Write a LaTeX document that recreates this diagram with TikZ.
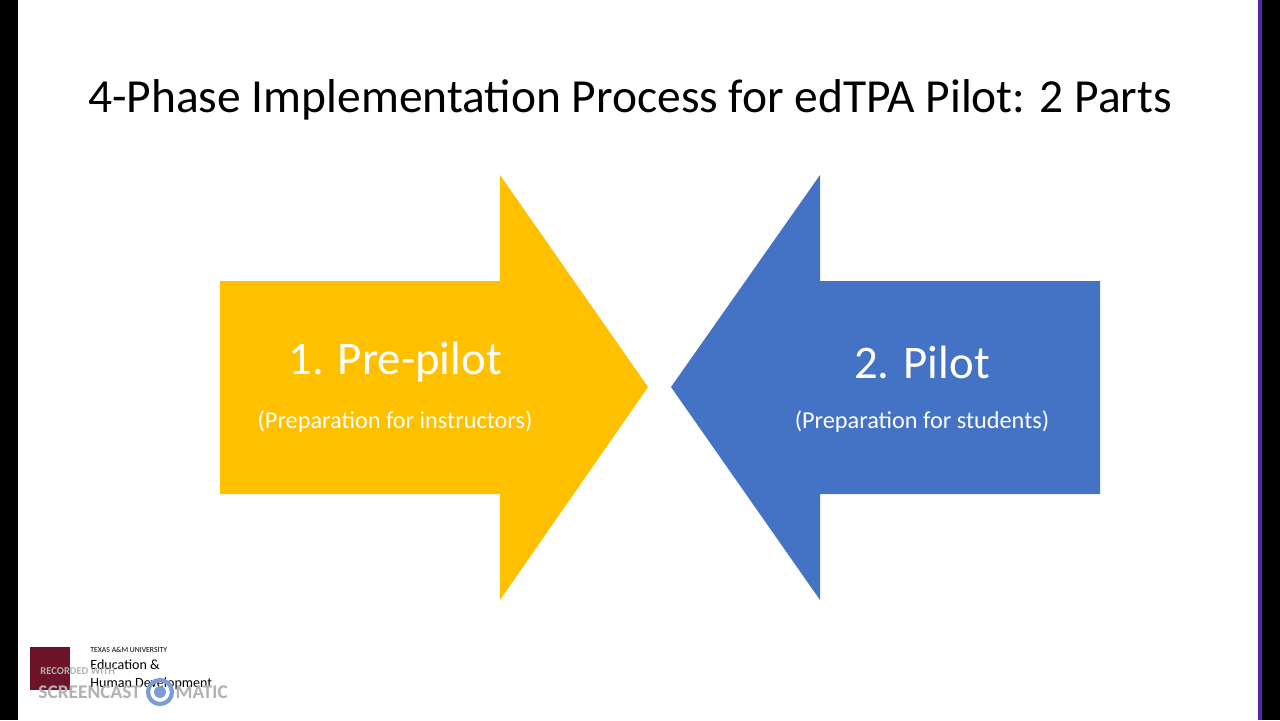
\documentclass[tikz,border=0pt]{standalone}
\usepackage{fontspec}
\setmainfont{Carlito}
\definecolor{gold}{RGB}{255,192,0}
\definecolor{steel}{RGB}{68,114,196}
\definecolor{maroon}{RGB}{110,20,40}
\begin{document}
\begin{tikzpicture}[x=0.01cm,y=-0.01cm]
    \tikzset{
        arrowfill/.style={draw=none},
        bigtxt/.style={text=white,font=\fontsize{13.3}{15}\selectfont},
        smalltxt/.style={text=white,font=\fontsize{6.9}{8}\selectfont}
    }
    \fill[black] (0,0) rectangle (1280,720);
    \fill[white] (18,0) rectangle (1258,720);
    \fill[blue!50!violet!70!gray] (1258,0) rectangle (1262,720);
    \useasboundingbox (0,0) rectangle (1280,720);

    \node (title) at (630,100) {\fontsize{13.5}{15}\selectfont 4-Phase Implementation Process for edTPA Pilot: 2 Parts};

    \fill[gold,arrowfill] (220,281) -- (500,281) -- (500,175) -- (648,387) -- (500,600) -- (500,494) -- (220,494) -- cycle;
    \fill[steel,arrowfill] (1100,281) -- (820,281) -- (820,175) -- (671,387) -- (820,600) -- (820,494) -- (1100,494) -- cycle;

    \node[bigtxt] (prepilot) at (395,362) {1. Pre-pilot};
    \node[smalltxt] (prepilotsub) at (395,422) {(Preparation for instructors)};
    \node[bigtxt] (pilot) at (922,362) {2. Pilot};
    \node[smalltxt] (pilotsub) at (922,422) {(Preparation for students)};

    % logo
    \fill[maroon] (30,647) rectangle (70,690);
    \node[anchor=west,font=\fontsize{2.2}{3}\selectfont] (tamu) at (78,650) {TEXAS A\&M UNIVERSITY};
    \node[anchor=west,font=\fontsize{4}{5}\selectfont,align=left] (ehd) at (78,675) {Education \&\\Human Development};
    \node[anchor=west,text=gray!60,font=\fontsize{3}{4}\bfseries\selectfont] (rec) at (28,671) {RECORDED WITH};
    \node[anchor=west,text=gray!60,font=\fontsize{5.5}{6}\bfseries\selectfont] (sc) at (26,692) {SCREENCAST \phantom{OO} MATIC};
    \draw[steel!70,line width=1.2pt] (160,692) circle (12);
    \fill[steel!70] (160,692) circle (6);
\end{tikzpicture}
\end{document}
